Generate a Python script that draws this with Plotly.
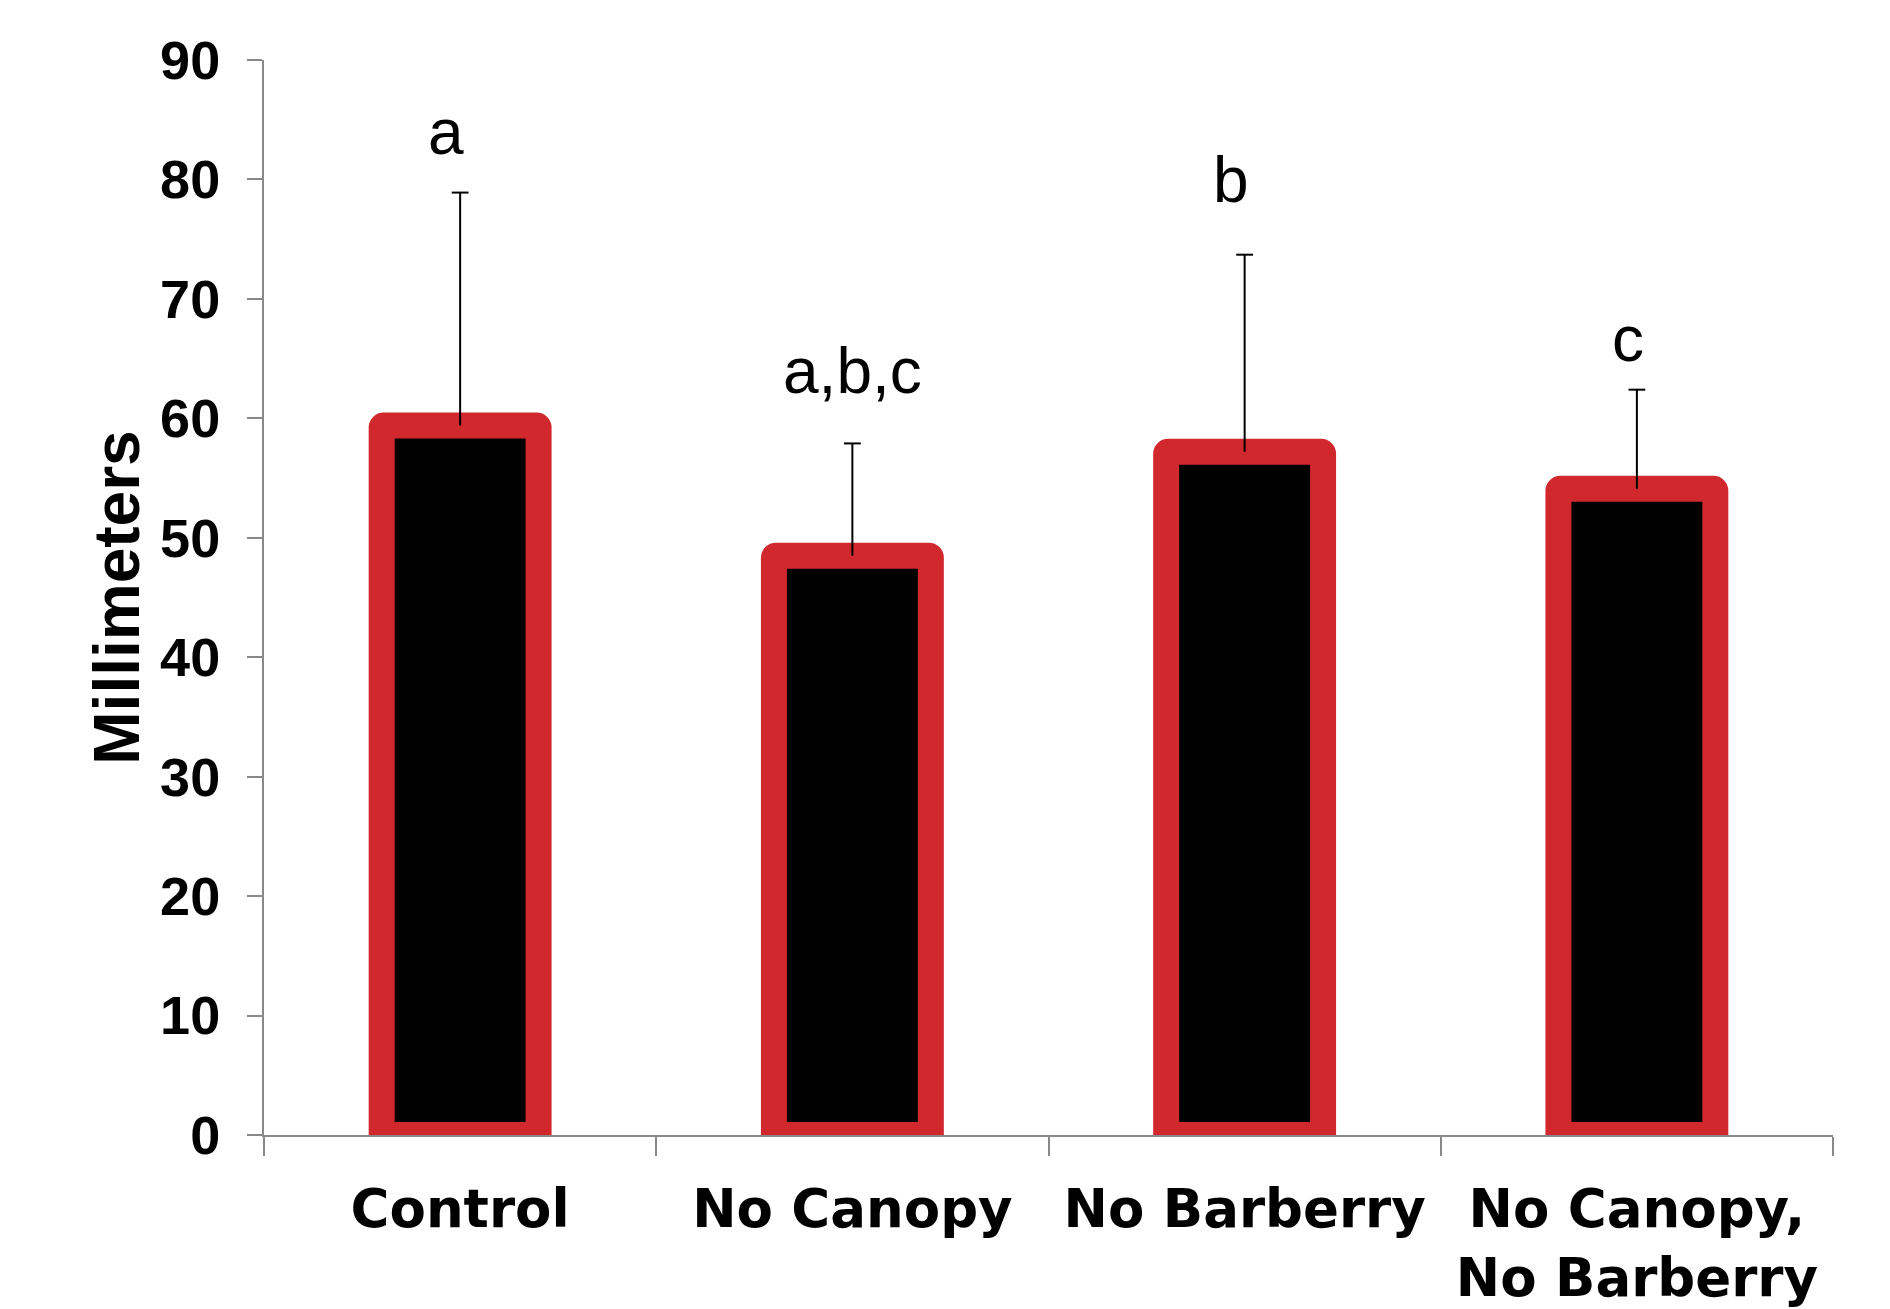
import plotly.graph_objects as go

# Mean growth per treatment (mm) with upper error bar and significance letters
categories = ["Control", "No Canopy", "No Barberry", "No Canopy, No Barberry"]
tick_labels = ["Control", "No Canopy", "No Barberry", "No Canopy,<br>No Barberry"]
mean_mm = [59.4, 48.5, 57.2, 54.1]
error_mm = [19.5, 9.4, 16.5, 8.3]
error_minus_mm = [0, 0, 0, 0]
group_letters = ["a", "a,b,c", "b", "c"]
y_ticks = [0, 10, 20, 30, 40, 50, 60, 70, 80, 90]

# Placement of the significance letters: bottom edge (axis units) and pixel nudge
letter_y = [80.8, 60.8, 76.8, 63.5]
letter_dx = [-14, 0, -14, -9]

RED = "#D1282E"
AXIS_GRAY = "#898989"
SANS = "Liberation Sans, Arial, sans-serif"
WIDE_SANS = "DejaVu Sans, Verdana, sans-serif"

upper_end = [m + e for m, e in zip(mean_mm, error_mm)]

fig = go.Figure()

# Bars with the error stem rising from each mean (no caps here)
fig.add_trace(
    go.Bar(
        x=categories,
        y=mean_mm,
        width=0.4,
        marker=dict(color="black", line=dict(color=RED, width=26), cornerradius=2),
        error_y=dict(
            type="data",
            symmetric=False,
            array=error_mm,
            arrayminus=error_minus_mm,
            color="black",
            thickness=2,
            width=0,
        ),
        showlegend=False,
        hoverinfo="skip",
    )
)

# Caps only at the upper end of each error bar
fig.add_trace(
    go.Scatter(
        x=categories,
        y=upper_end,
        mode="markers",
        marker=dict(symbol="line-ew", size=12, color="black",
                    line=dict(color="black", width=2)),
        showlegend=False,
        hoverinfo="skip",
        cliponaxis=False,
    )
)

for cat, letter, ly, dx in zip(categories, group_letters, letter_y, letter_dx):
    fig.add_annotation(
        x=cat, y=ly, xref="x", yref="y",
        text=letter, showarrow=False,
        xanchor="center", yanchor="bottom", xshift=dx,
        font=dict(family=SANS, size=64, color="black"),
    )

# Rotated y-axis title
fig.add_annotation(
    x=-0.0942, y=0.5, xref="paper", yref="paper",
    text="Millimeters", textangle=-90, showarrow=False,
    xanchor="center", yanchor="middle",
    font=dict(family=SANS, size=64, color="black", weight="bold"),
)

fig.update_layout(
    width=1890,
    height=1309,
    margin=dict(l=264, r=57, t=60, b=174, autoexpand=False),
    paper_bgcolor="white",
    plot_bgcolor="white",
    xaxis=dict(
        type="category",
        range=[-0.5, 3.5],
        tickmode="array",
        tickvals=categories,
        ticktext=tick_labels,
        tickson="boundaries",
        ticks="outside",
        ticklen=19,
        tickwidth=2,
        tickcolor=AXIS_GRAY,
        showline=True,
        linecolor=AXIS_GRAY,
        linewidth=2,
        showgrid=False,
        zeroline=False,
        ticklabelstandoff=26,
        tickfont=dict(family=WIDE_SANS, size=53, color="black", weight="bold"),
    ),
    yaxis=dict(
        range=[0, 90],
        tickmode="array",
        tickvals=y_ticks,
        ticks="outside",
        ticklen=15,
        tickwidth=2,
        tickcolor=AXIS_GRAY,
        showline=True,
        linecolor=AXIS_GRAY,
        linewidth=2,
        showgrid=False,
        zeroline=False,
        ticklabelstandoff=16,
        tickfont=dict(family=SANS, size=54, color="black", weight="bold"),
    ),
)

fig.write_html("out.html")
